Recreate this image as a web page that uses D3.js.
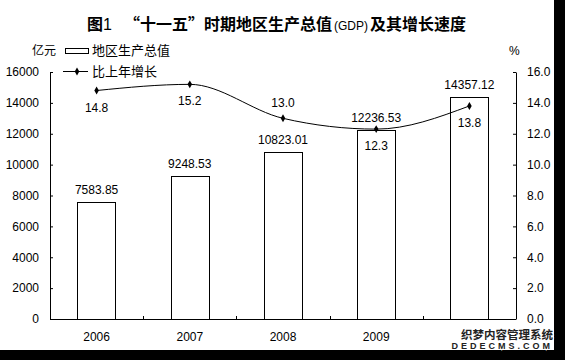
<!DOCTYPE html>
<html>
<head>
<meta charset="utf-8">
<script src="https://cdn.jsdelivr.net/npm/d3@7"></script>
<style>
  body { margin: 0; background: #fff; }
  text { font-family: "Liberation Sans", Arial, "Noto Sans CJK SC", sans-serif; }
  .cjk { font-family: "Noto Sans CJK SC", sans-serif; }
</style>
</head>
<body>
<script>
const years = ["2006", "2007", "2008", "2009", "2010"];
const gdp = [7583.85, 9248.53, 10823.01, 12236.53, 14357.12];
const growth = [14.8, 15.2, 13.0, 12.3, 13.8];
const leftTicks = [0, 2000, 4000, 6000, 8000, 10000, 12000, 14000, 16000];
const rightTicks = [0, 2, 4, 6, 8, 10, 12, 14, 16];
// label above (-1) or below (+1) the growth point
const growthLabelSide = [1, 1, -1, 1, 1];

const w = 565, h = 360;
const padL = 50, padR = 516, padT = 72, padB = 319;

const svg = d3.select("body").append("svg")
  .attr("width", w).attr("height", h);

svg.append("rect").attr("width", w).attr("height", h).attr("fill", "#fff");

const x = d3.scaleBand().domain(years).range([padL, padR]).paddingInner(0.59).paddingOuter(0.295);
const yL = d3.scaleLinear().domain([0, 16000]).range([padB, padT]);
const yR = d3.scaleLinear().domain([0, 16]).range([padB, padT]);

// title
const title = svg.append("text").attr("x", 87).attr("y", 30)
  .attr("class", "cjk").attr("font-size", 16).attr("font-weight", "bold");
title.append("tspan").text("图");
title.append("tspan").attr("font-weight", "normal").attr("font-family", "Liberation Sans, Arial").text("1");
title.append("tspan").attr("dx", 12).text("“十一五”时期地区生产总值");
title.append("tspan").attr("font-weight", "normal").attr("font-size", 12).attr("dx", 2)
  .attr("font-family", "Liberation Sans, Arial").text("(GDP)");
title.append("tspan").attr("dx", 2).text("及其增长速度");

// unit labels
svg.append("text").attr("class", "cjk").attr("x", 32).attr("y", 55).attr("font-size", 12).text("亿元");
svg.append("text").attr("x", 509).attr("y", 55).attr("font-size", 12).text("%");

// legend
svg.append("rect").attr("x", 65.5).attr("y", 48.5).attr("width", 23).attr("height", 5)
  .attr("fill", "#fff").attr("stroke", "#000");
svg.append("text").attr("class", "cjk").attr("x", 92).attr("y", 55).attr("font-size", 13).text("地区生产总值");
svg.append("line").attr("x1", 63).attr("x2", 88).attr("y1", 71.5).attr("y2", 71.5).attr("stroke", "#000");
svg.append("path").attr("d", d3.symbol(d3.symbolDiamond, 18)()).attr("transform", "translate(77,71.5)");
svg.append("text").attr("class", "cjk").attr("x", 92).attr("y", 76).attr("font-size", 13).text("比上年增长");

// axes
const axL = svg.append("g").attr("transform", `translate(${padL},0)`)
  .call(d3.axisLeft(yL).tickValues(leftTicks).tickSizeInner(-3).tickSizeOuter(0).tickPadding(11).tickFormat(d3.format("d")));
const axR = svg.append("g").attr("transform", `translate(${padR},0)`)
  .call(d3.axisRight(yR).tickValues(rightTicks).tickSizeInner(-3).tickSizeOuter(0).tickPadding(11).tickFormat(d3.format(".1f")));
[axL, axR].forEach(a => {
  a.selectAll("text").attr("font-size", 12).attr("font-family", "Liberation Sans, Arial").attr("fill", "#000");
  a.select(".domain").attr("stroke", "#000");
  a.selectAll(".tick line").attr("stroke", "#000");
});

// bars
svg.selectAll("rect.bar").data(gdp).enter().append("rect")
  .attr("class", "bar")
  .attr("x", (d, i) => Math.round(x(years[i])) + 0.5)
  .attr("y", d => Math.round(yL(d)) + 0.5)
  .attr("width", Math.round(x.bandwidth()))
  .attr("height", d => padB - Math.round(yL(d)))
  .attr("fill", "#fff").attr("stroke", "#000");

svg.selectAll("text.barlab").data(gdp).enter().append("text")
  .attr("class", "barlab")
  .attr("x", (d, i) => x(years[i]) + x.bandwidth() / 2)
  .attr("y", d => yL(d) - 8)
  .attr("text-anchor", "middle").attr("font-size", 12)
  .text(d => d.toFixed(2));

// x axis (last label is covered by the watermark in the source)
const xAx = svg.append("g").attr("transform", `translate(0,${padB})`)
  .call(d3.axisBottom(x).tickSize(0).tickPadding(13).tickFormat(d => d === "2010" ? "" : d));
xAx.select(".domain").attr("d", `M${padL},0.5H${padR}`).attr("stroke", "#000");
xAx.selectAll("text").attr("font-size", 12).attr("font-family", "Liberation Sans, Arial").attr("fill", "#000");
const step = x.step();
svg.selectAll("line.xt").data(years.slice(1)).enter().append("line")
  .attr("x1", d => Math.round(x(d) - step * x.paddingInner() / 2) + 0.5)
  .attr("x2", d => Math.round(x(d) - step * x.paddingInner() / 2) + 0.5)
  .attr("y1", padB).attr("y2", padB - 3).attr("stroke", "#000");

// growth line
const cx = (d, i) => x(years[i]) + x.bandwidth() / 2;
const line = d3.line().x(cx).y(d => yR(d)).curve(d3.curveMonotoneX);
svg.append("path").datum(growth).attr("d", line).attr("fill", "none").attr("stroke", "#000").attr("stroke-width", 1);
svg.selectAll("path.pt").data(growth).enter().append("path")
  .attr("d", d3.symbol(d3.symbolDiamond, 18)())
  .attr("transform", (d, i) => `translate(${cx(d, i)},${yR(d)})`);
svg.selectAll("text.glab").data(growth).enter().append("text")
  .attr("x", cx)
  .attr("y", (d, i) => yR(d) + (growthLabelSide[i] > 0 ? 21 : -11))
  .attr("text-anchor", "middle").attr("font-size", 12)
  .text(d => d.toFixed(1));

// frame edges of the source image
svg.append("rect").attr("x", 554).attr("y", 0).attr("width", 11).attr("height", h).attr("fill", "#000");
svg.append("rect").attr("x", 0).attr("y", 350).attr("width", w).attr("height", 10).attr("fill", "#000");

// watermark
svg.append("text").attr("class", "cjk").attr("x", 553).attr("y", 339).attr("text-anchor", "end")
  .attr("font-size", 11.5).attr("font-weight", "bold").attr("fill", "#222")
  .attr("stroke", "#fff").attr("stroke-width", 2).attr("paint-order", "stroke").text("织梦内容管理系统");
svg.append("text").attr("x", 553).attr("y", 349).attr("text-anchor", "end")
  .attr("font-size", 9).attr("font-weight", "bold").attr("fill", "#222")
  .attr("stroke", "#fff").attr("stroke-width", 2).attr("paint-order", "stroke")
  .attr("letter-spacing", 3).text("DEDECMS.COM");
</script>
</body>
</html>
